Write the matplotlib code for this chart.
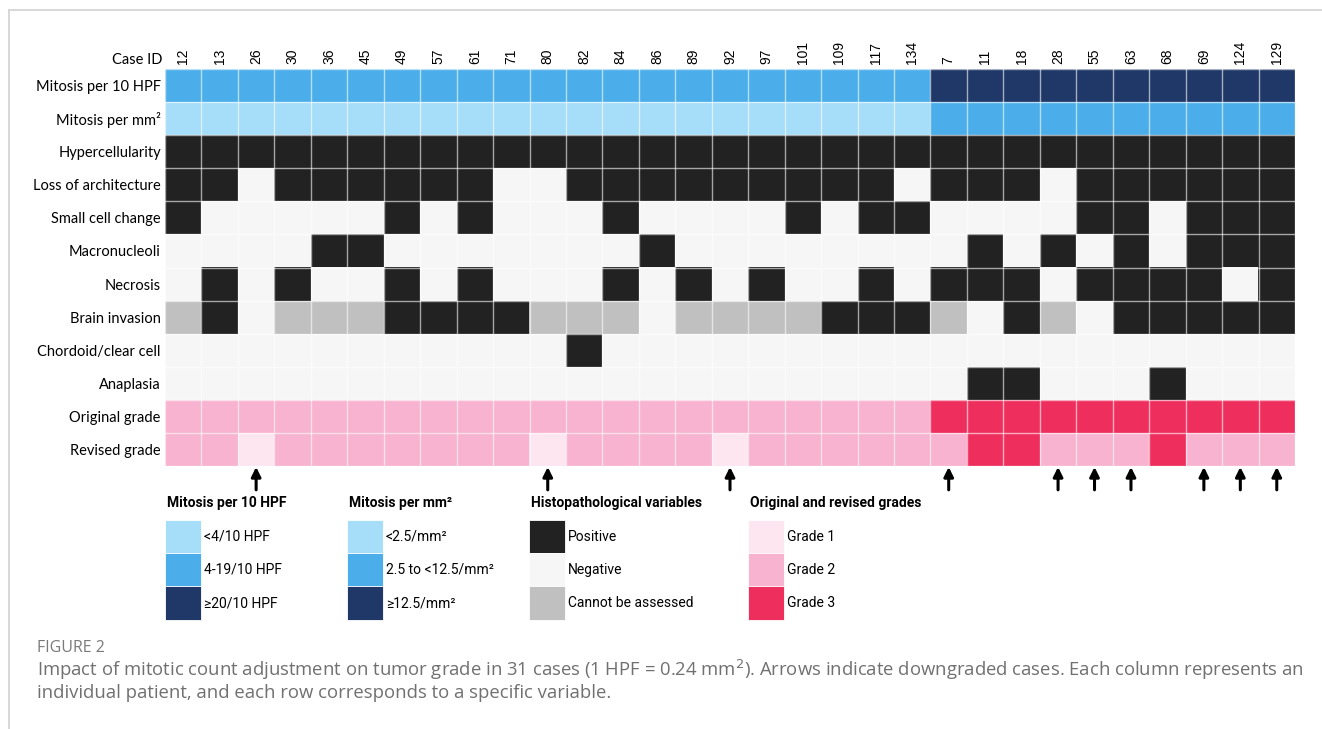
import matplotlib
matplotlib.use("Agg")
import matplotlib.pyplot as plt
from matplotlib.colors import to_rgb
from matplotlib.patches import Rectangle
from matplotlib.lines import Line2D
import numpy as np

# ---------------- data ----------------
case_ids = [12, 13, 26, 30, 36, 45, 49, 57, 61, 71, 80, 82, 84, 86, 89, 92, 97,
            101, 109, 117, 134, 7, 11, 18, 28, 55, 63, 68, 69, 124, 129]

row_labels = ["Mitosis per 10 HPF", "Mitosis per mm²", "Hypercellularity",
              "Loss of architecture", "Small cell change", "Macronucleoli",
              "Necrosis", "Brain invasion", "Chordoid/clear cell", "Anaplasia",
              "Original grade", "Revised grade"]

# mitotic category: 1 = low, 2 = intermediate, 3 = high
mitosis_hpf = [2, 2, 2, 2, 2, 2, 2, 2, 2, 2, 2, 2, 2, 2, 2, 2, 2, 2, 2, 2, 2,
               3, 3, 3, 3, 3, 3, 3, 3, 3, 3]
mitosis_mm2 = [1, 1, 1, 1, 1, 1, 1, 1, 1, 1, 1, 1, 1, 1, 1, 1, 1, 1, 1, 1, 1,
               2, 2, 2, 2, 2, 2, 2, 2, 2, 2]

# histopathology: 1 = positive, 0 = negative, 2 = cannot be assessed
hypercellularity = [1, 1, 1, 1, 1, 1, 1, 1, 1, 1, 1, 1, 1, 1, 1, 1, 1, 1, 1, 1, 1,
                    1, 1, 1, 1, 1, 1, 1, 1, 1, 1]
loss_architecture = [1, 1, 0, 1, 1, 1, 1, 1, 1, 0, 0, 1, 1, 1, 1, 1, 1, 1, 1, 1, 0,
                     1, 1, 1, 0, 1, 1, 1, 1, 1, 1]
small_cell = [1, 0, 0, 0, 0, 0, 1, 0, 1, 0, 0, 0, 1, 0, 0, 0, 0, 1, 0, 1, 1,
              0, 0, 0, 0, 1, 1, 0, 1, 1, 1]
macronucleoli = [0, 0, 0, 0, 1, 1, 0, 0, 0, 0, 0, 0, 0, 1, 0, 0, 0, 0, 0, 0, 0,
                 0, 1, 0, 1, 0, 1, 0, 1, 1, 1]
necrosis = [0, 1, 0, 1, 0, 0, 1, 0, 1, 0, 0, 0, 1, 0, 1, 0, 1, 0, 0, 1, 0,
            1, 1, 1, 0, 1, 1, 1, 1, 0, 1]
brain_invasion = [2, 1, 0, 2, 2, 2, 1, 1, 1, 1, 2, 2, 2, 0, 2, 2, 2, 2, 1, 1, 1,
                  2, 0, 1, 2, 0, 1, 1, 1, 1, 1]
chordoid = [0, 0, 0, 0, 0, 0, 0, 0, 0, 0, 0, 1, 0, 0, 0, 0, 0, 0, 0, 0, 0,
            0, 0, 0, 0, 0, 0, 0, 0, 0, 0]
anaplasia = [0, 0, 0, 0, 0, 0, 0, 0, 0, 0, 0, 0, 0, 0, 0, 0, 0, 0, 0, 0, 0,
             0, 1, 1, 0, 0, 0, 1, 0, 0, 0]

# WHO grade
original_grade = [2, 2, 2, 2, 2, 2, 2, 2, 2, 2, 2, 2, 2, 2, 2, 2, 2, 2, 2, 2, 2,
                  3, 3, 3, 3, 3, 3, 3, 3, 3, 3]
revised_grade = [2, 2, 1, 2, 2, 2, 2, 2, 2, 2, 1, 2, 2, 2, 2, 1, 2, 2, 2, 2, 2,
                 2, 3, 3, 2, 2, 2, 3, 2, 2, 2]

legend_hpf = ["<4/10 HPF", "4-19/10 HPF", "≥20/10 HPF"]
legend_mm2 = ["<2.5/mm²", "2.5 to <12.5/mm²", "≥12.5/mm²"]
legend_histo = ["Positive", "Negative", "Cannot be assessed"]
legend_grade = ["Grade 1", "Grade 2", "Grade 3"]

# ---------------- styling ----------------
MITOSIS_COLORS = {1: "#A6DDF8", 2: "#4BAEEA", 3: "#1F3868"}
HISTO_COLORS = {1: "#222222", 0: "#F6F6F6", 2: "#C0C0C0"}
GRADE_COLORS = {1: "#FDE6F0", 2: "#F7B3CF", 3: "#EE2F5E"}

LABEL_FONT = ["Lato", "DejaVu Sans"]
LEGEND_FONT = ["Roboto", "DejaVu Sans"]
TICK_FONT = ["Liberation Sans", "DejaVu Sans"]
CAPTION_FONT = ["Open Sans", "DejaVu Sans"]

rows = [
    (mitosis_hpf, MITOSIS_COLORS),
    (mitosis_mm2, MITOSIS_COLORS),
    (hypercellularity, HISTO_COLORS),
    (loss_architecture, HISTO_COLORS),
    (small_cell, HISTO_COLORS),
    (macronucleoli, HISTO_COLORS),
    (necrosis, HISTO_COLORS),
    (brain_invasion, HISTO_COLORS),
    (chordoid, HISTO_COLORS),
    (anaplasia, HISTO_COLORS),
    (original_grade, GRADE_COLORS),
    (revised_grade, GRADE_COLORS),
]

W, H = 1322, 729
fig = plt.figure(figsize=(W / 100, H / 100), dpi=100)
fig.patch.set_facecolor("white")


def fx(px):
    return px / W


def fy(py):
    return 1 - py / H


# ---------------- heatmap ----------------
ax = fig.add_axes([fx(165), fy(466), fx(1295) - fx(165), fy(69) - fy(466)])
img = np.array([[to_rgb(pal[v]) for v in vals] for vals, pal in rows])
n_rows, n_cols = img.shape[0], img.shape[1]
ax.imshow(img, aspect="auto", interpolation="nearest",
          extent=(-0.5, n_cols - 0.5, n_rows - 0.5, -0.5))

ax.set_xticks(np.arange(n_cols))
ax.set_xticklabels([str(c) for c in case_ids], rotation=90, fontsize=10,
                   family=TICK_FONT, va="bottom")
ax.xaxis.tick_top()
ax.set_yticks(np.arange(n_rows))
ax.set_yticklabels(row_labels, fontsize=10.5, family=LABEL_FONT)
ax.tick_params(axis="both", which="both", length=0)
ax.tick_params(axis="x", pad=3.5)
ax.tick_params(axis="y", pad=3)

ax.set_xticks(np.arange(-0.5, n_cols, 1), minor=True)
ax.set_yticks(np.arange(-0.5, n_rows, 1), minor=True)
ax.grid(which="minor", color="white", linewidth=1.0, alpha=0.6)
ax.grid(which="major", visible=False)
for s in ax.spines.values():
    s.set_visible(False)

# arrows under downgraded cases
for i, (o, r) in enumerate(zip(original_grade, revised_grade)):
    if r < o:
        ax.annotate("", xy=(i, n_rows - 0.5 + 0.03), xytext=(i, n_rows - 0.5 + 0.72),
                    arrowprops=dict(arrowstyle="-|>", color="black", lw=2.2,
                                    mutation_scale=14, shrinkA=0, shrinkB=0),
                    annotation_clip=False)

# ---------------- legends + frame ----------------
ov = fig.add_axes([0, 0, 1, 1], facecolor="none")
ov.set_xlim(0, W)
ov.set_ylim(H, 0)
ov.axis("off")

ov.add_line(Line2D([9, W], [9.5, 9.5], color="#d4d4d4", lw=1.3))
ov.add_line(Line2D([9, 9], [9.5, H], color="#d4d4d4", lw=1.3))

ov.text(162, 60, "Case ID", fontsize=10.5, family=LABEL_FONT, ha="right", va="center")

groups = [
    (165, "Mitosis per 10 HPF", legend_hpf,
     [MITOSIS_COLORS[1], MITOSIS_COLORS[2], MITOSIS_COLORS[3]]),
    (347, "Mitosis per mm²", legend_mm2,
     [MITOSIS_COLORS[1], MITOSIS_COLORS[2], MITOSIS_COLORS[3]]),
    (529, "Histopathological variables", legend_histo,
     [HISTO_COLORS[1], HISTO_COLORS[0], HISTO_COLORS[2]]),
    (748, "Original and revised grades", legend_grade,
     [GRADE_COLORS[1], GRADE_COLORS[2], GRADE_COLORS[3]]),
]
sw_w, sw_h, sw_top = 36, 33.2, 520
for gx, title, labels, cols in groups:
    ov.text(gx + 2, 503, title, fontsize=10, fontweight="bold", family=LEGEND_FONT,
            ha="left", va="center")
    for k, (lab, c) in enumerate(zip(labels, cols)):
        y0 = sw_top + k * sw_h
        ov.add_patch(Rectangle((gx, y0), sw_w, sw_h, facecolor=c,
                               edgecolor="white", lw=0.6))
        ov.text(gx + sw_w + 3, y0 + sw_h / 2, lab, fontsize=10, family=LEGEND_FONT,
                ha="left", va="center")

# ---------------- caption ----------------
ov.text(37, 648, "FIGURE 2", fontsize=11.5, family=CAPTION_FONT, color="#7a7a7a",
        ha="left", va="center")
ov.text(37, 670,
        "Impact of mitotic count adjustment on tumor grade in 31 cases (1 HPF = 0.24 mm$^2$). "
        "Arrows indicate downgraded cases. Each column represents an",
        fontsize=13.3, family=CAPTION_FONT, color="#707070", ha="left", va="center")
ov.text(37, 693,
        "individual patient, and each row corresponds to a specific variable.",
        fontsize=13.3, family=CAPTION_FONT, color="#707070", ha="left", va="center")

fig.savefig("out.png", dpi=100)
